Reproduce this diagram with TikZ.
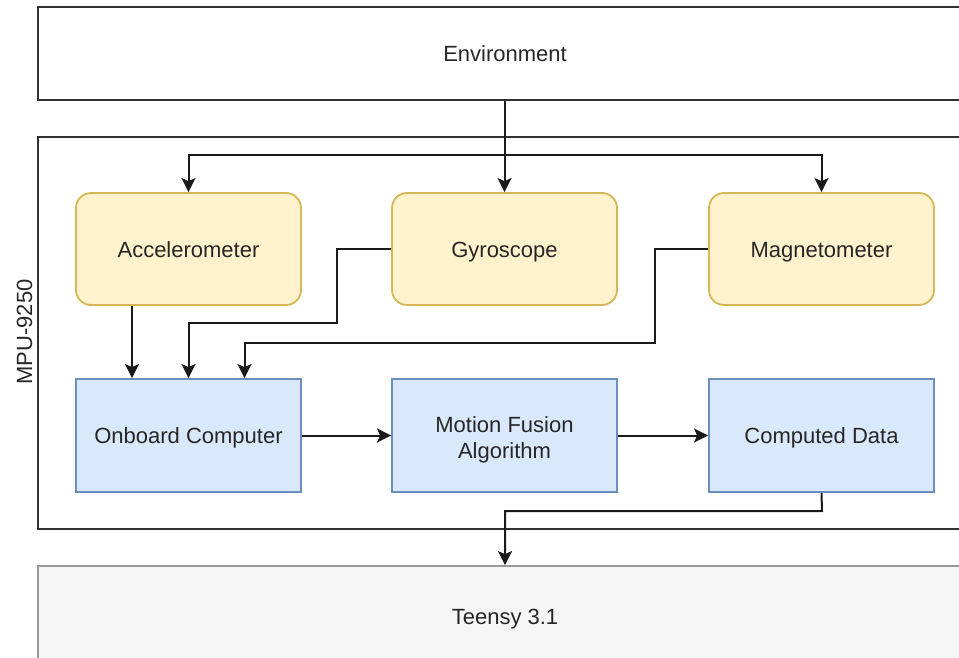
\documentclass[tikz,border=0pt]{standalone}
\usepackage{fontspec}
\setmainfont{Liberation Sans}
\usetikzlibrary{arrows.meta}
\definecolor{yfill}{HTML}{FFF2CC}
\definecolor{ydraw}{HTML}{D6B656}
\definecolor{bfill}{HTML}{DAE8FC}
\definecolor{bdraw}{HTML}{6C8EBF}
\definecolor{gfill}{HTML}{F5F5F5}
\definecolor{gdraw}{HTML}{999999}
\definecolor{kline}{HTML}{1A1A1A}
\tikzset{
  base/.style={font=\fontsize{22}{26}\selectfont, text=black!85, align=center, inner sep=0pt, line width=1.8pt},
  oneline/.style={text height=19pt, text depth=3pt},
  sensor/.style={base, oneline, draw=ydraw, fill=yfill, rounded corners=15pt, minimum width=225pt, minimum height=112pt},
  proc/.style={base, draw=bdraw, fill=bfill, minimum width=225pt, minimum height=113pt},
  outer/.style={base, draw=kline!90, minimum width=934pt},
  hostbox/.style={base, draw=gdraw, fill=gfill, minimum width=934pt},
  conn/.style={draw=kline, line width=2pt, -{Stealth[length=14pt,width=14pt,inset=3pt]}}
}
\begin{document}
\begin{tikzpicture}[x=1pt,y=-1pt]
\useasboundingbox (0,0) rectangle (959,658);
\clip (0,0) rectangle (959,658);
% outer boxes
\node[outer, oneline, minimum height=93pt] (env) at (505,53.5) {Environment};
\node[outer, minimum height=392pt] (mpu) at (505,333) {};
\node[hostbox, minimum height=140pt] (teensy) at (505,636) {};
\node[base, oneline] (teensylbl) at (505,616) {Teensy 3.1};
\node[base, oneline, rotate=90] (mpulbl) at (24,332) {MPU-9250};
% sensors
\node[sensor] (acc) at (188.5,249) {Accelerometer};
\node[sensor] (gyro) at (504.5,249) {Gyroscope};
\node[sensor] (mag) at (821.5,249) {Magnetometer};
% processing
\node[proc, oneline] (obc) at (188.5,435.5) {Onboard Computer};
\node[proc, text height=50pt, text depth=4pt] (mfa) at (504.5,435.5) {Motion Fusion\\Algorithm};
\node[proc, oneline] (cd) at (821.5,435.5) {Computed Data};
% routing coordinates
\coordinate (split) at (505,155);
\coordinate (gyroA) at (337,249);
\coordinate (gyroB) at (337,323);
\coordinate (magA) at (655,249);
\coordinate (magB) at (655,343);
\coordinate (cdA) at (822,511);
% environment to sensors
\draw[conn] (env.south -| gyro.north) -- (gyro.north);
\draw[conn] (split) -| (acc.north);
\draw[conn] (split) -| (mag.north);
% sensors to onboard computer
\draw[conn] (acc.south -| 132,0) -- (obc.north -| 132,0);
\draw[conn] (gyro.west) -- (gyroA) -- (gyroB) -| (obc.north);
\draw[conn] (mag.west) -- (magA) -- (magB) -| ([xshift=56pt]obc.north);
% processing chain
\draw[conn] (obc.east) -- (mfa.west);
\draw[conn] (mfa.east) -- (cd.west);
\draw[conn] (cd.south) -- (cdA) -| (teensy.north);
\end{tikzpicture}
\end{document}
